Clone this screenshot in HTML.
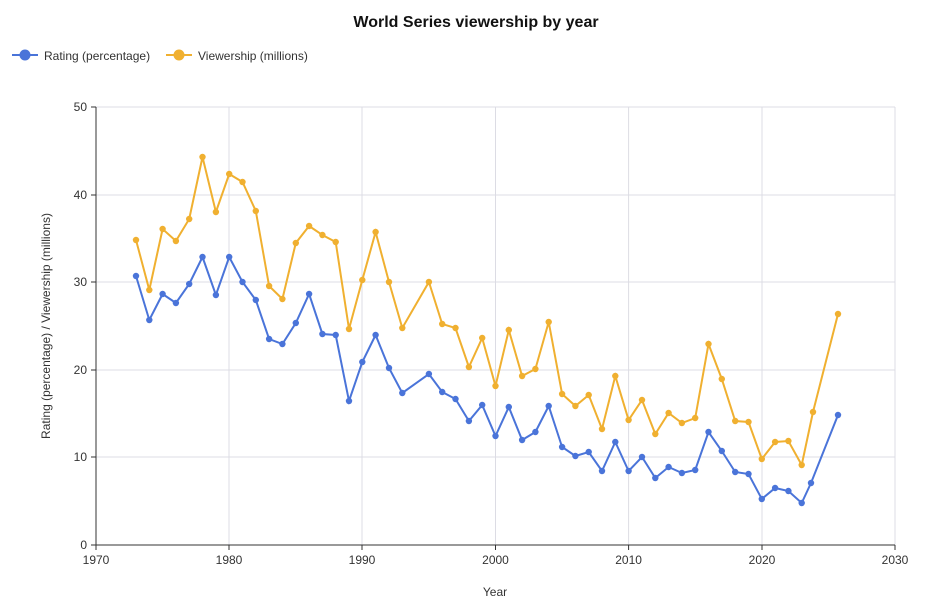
<!DOCTYPE html>
<html><head><meta charset="utf-8"><style>
body{margin:0;background:#fff;font-family:"Liberation Sans",sans-serif}
</style></head><body>
<svg width="927" height="604" xmlns="http://www.w3.org/2000/svg" font-family="Liberation Sans, sans-serif">
<defs>
<marker id="mb" markerWidth="8" markerHeight="8" refX="4" refY="4" markerUnits="userSpaceOnUse"><circle cx="4" cy="4" r="3.2" fill="#4a74d9"/></marker>
<marker id="mo" markerWidth="8" markerHeight="8" refX="4" refY="4" markerUnits="userSpaceOnUse"><circle cx="4" cy="4" r="3.2" fill="#f0b030"/></marker>
</defs>
<text x="476" y="27" text-anchor="middle" font-size="16" font-weight="bold" fill="#111">World Series viewership by year</text>
<line x1="12" y1="55" x2="38" y2="55" stroke="#4a74d9" stroke-width="2"/><circle cx="25" cy="55" r="5.5" fill="#4a74d9"/>
<text x="44" y="60" font-size="12" fill="#333">Rating (percentage)</text>
<line x1="166" y1="55" x2="192" y2="55" stroke="#f0b030" stroke-width="2"/><circle cx="179" cy="55" r="5.5" fill="#f0b030"/>
<text x="198" y="60" font-size="12" fill="#333">Viewership (millions)</text>
<g stroke="#dcdce4" stroke-width="1">
<line x1="96" y1="107" x2="895" y2="107"/><line x1="96" y1="195" x2="895" y2="195"/><line x1="96" y1="282" x2="895" y2="282"/><line x1="96" y1="370" x2="895" y2="370"/><line x1="96" y1="457" x2="895" y2="457"/>
<line x1="229" y1="107" x2="229" y2="545"/><line x1="362" y1="107" x2="362" y2="545"/><line x1="495.5" y1="107" x2="495.5" y2="545"/><line x1="628.6" y1="107" x2="628.6" y2="545"/><line x1="762" y1="107" x2="762" y2="545"/><line x1="895" y1="107" x2="895" y2="545"/>
</g>
<line x1="96" y1="107" x2="96" y2="545" stroke="#333"/>
<line x1="96" y1="545" x2="895" y2="545" stroke="#333"/>
<g stroke="#333"><line x1="91" y1="107" x2="96" y2="107"/><line x1="91" y1="195" x2="96" y2="195"/><line x1="91" y1="282" x2="96" y2="282"/><line x1="91" y1="370" x2="96" y2="370"/><line x1="91" y1="457" x2="96" y2="457"/><line x1="91" y1="545" x2="96" y2="545"/>
<line x1="96" y1="545" x2="96" y2="550"/><line x1="229" y1="545" x2="229" y2="550"/><line x1="362" y1="545" x2="362" y2="550"/><line x1="495.5" y1="545" x2="495.5" y2="550"/><line x1="628.6" y1="545" x2="628.6" y2="550"/><line x1="762" y1="545" x2="762" y2="550"/><line x1="895" y1="545" x2="895" y2="550"/></g>
<g font-size="12" fill="#333" text-anchor="end">
<text x="87" y="111">50</text><text x="87" y="199">40</text><text x="87" y="286">30</text><text x="87" y="374">20</text><text x="87" y="461">10</text><text x="87" y="549">0</text></g>
<g font-size="12" fill="#333" text-anchor="middle">
<text x="96" y="564">1970</text><text x="229" y="564">1980</text><text x="362" y="564">1990</text><text x="495.5" y="564">2000</text><text x="628.6" y="564">2010</text><text x="762" y="564">2020</text><text x="895" y="564">2030</text>
<text x="495" y="596">Year</text></g>
<text transform="translate(50,326) rotate(-90)" font-size="12" fill="#333" text-anchor="middle">Rating (percentage) / Viewership (millions)</text>
<polyline fill="none" stroke="#f0b030" stroke-width="2" marker-start="url(#mo)" marker-mid="url(#mo)" marker-end="url(#mo)" points="136,240 149.3,290 162.6,229 175.9,241 189.2,219 202.5,157 215.9,212 229.2,174 242.5,182 255.8,211 269.1,286 282.4,299 295.8,243 309.1,226 322.4,235 335.7,242 349,329 362.3,280 375.6,232 389,282 402.3,328 428.9,282 442.2,324 455.5,328 468.9,367 482.2,338 495.5,386 508.8,330 522.1,376 535.4,369 548.7,322 562.1,394 575.4,406 588.7,395 602,429 615.3,376 628.6,420 642,400 655.3,434 668.6,413 681.9,423 695.2,418 708.5,344 721.8,379 735.2,421 748.5,422 761.8,459 775.1,442 788.4,441 801.7,465 813,412 838,314"/>
<polyline fill="none" stroke="#4a74d9" stroke-width="2" marker-start="url(#mb)" marker-mid="url(#mb)" marker-end="url(#mb)" points="136,276 149.3,320 162.6,294 175.9,303 189.2,284 202.5,257 215.9,295 229.2,257 242.5,282 255.8,300 269.1,339 282.4,344 295.8,323 309.1,294 322.4,334 335.7,335 349,401 362.3,362 375.6,335 389,368 402.3,393 428.9,374 442.2,392 455.5,399 468.9,421 482.2,405 495.5,436 508.8,407 522.1,440 535.4,432 548.7,406 562.1,447 575.4,456 588.7,452 602,471 615.3,442 628.6,471 642,457 655.3,478 668.6,467 681.9,473 695.2,470 708.5,432 721.8,451 735.2,472 748.5,474 761.8,499 775.1,488 788.4,491 801.7,503 811,483 838,415"/>
</svg>
</body></html>
